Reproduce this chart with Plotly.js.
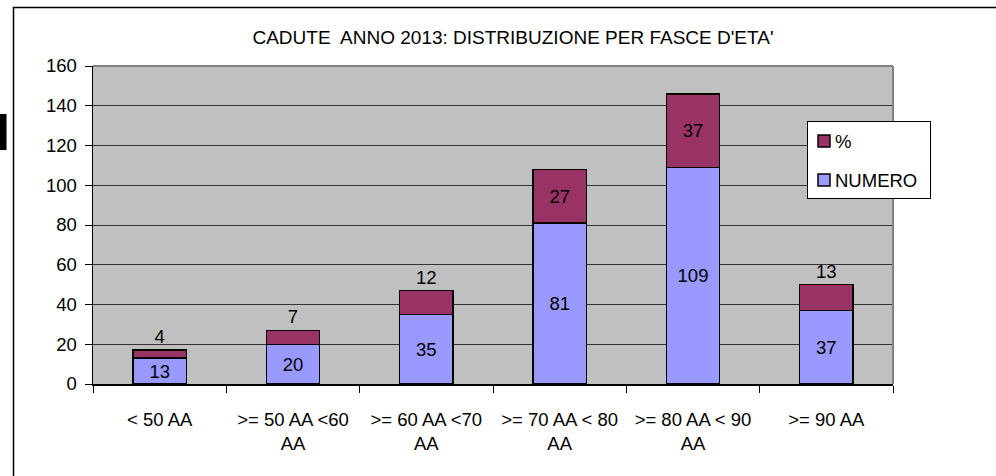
<!DOCTYPE html>
<html>
<head>
<meta charset="utf-8">
<script src="https://cdn.plot.ly/plotly-3.0.1.min.js"></script>
<style>
html,body{margin:0;padding:0;background:#fff;}
#chart{width:996px;height:476px;}
</style>
</head>
<body>
<div id="chart"></div>
<script>
const categories = ["< 50 AA", ">= 50 AA <60<br>AA", ">= 60 AA <70<br>AA", ">= 70 AA < 80<br>AA", ">= 80 AA < 90<br>AA", ">= 90 AA"];
const numero = [13, 20, 35, 81, 109, 37];
const percent = [4, 7, 12, 27, 37, 13];
const percentLabelPos = ["outside", "outside", "outside", "inside", "inside", "outside"];
const yTicks = [0, 20, 40, 60, 80, 100, 120, 140, 160];

const FONT = "Liberation Sans, Arial, sans-serif";
const FS = 18.5;

const traces = [
  {
    type: "bar", name: "NUMERO", x: categories, y: numero,
    text: numero.map(String), textposition: "inside", insidetextanchor: "middle",
    textangle: 0, constraintext: "none", cliponaxis: false,
    textfont: {family: FONT, size: FS, color: "#000"},
    insidetextfont: {family: FONT, size: FS, color: "#000"},
    marker: {color: "#9999FF", line: {color: "#000", width: 1.5}},
    width: 0.4, legendrank: 2, hoverinfo: "skip"
  },
  {
    type: "bar", name: "%", x: categories, y: percent,
    text: percent.map(String), textposition: percentLabelPos, insidetextanchor: "middle",
    textangle: 0, constraintext: "none", cliponaxis: false,
    textfont: {family: FONT, size: FS, color: "#000"},
    insidetextfont: {family: FONT, size: FS, color: "#000"},
    outsidetextfont: {family: FONT, size: FS, color: "#000"},
    marker: {color: "#993366", line: {color: "#000", width: 1.5}},
    width: 0.4, legendrank: 1, hoverinfo: "skip"
  }
];

const L = 93, R = 893, T = 66, B = 384, W = 996, H = 476;
const px = v => (v - L) / (R - L);
const py = v => (B - v) / (B - T);

const layout = {
  width: W, height: H,
  margin: {l: L, r: W - R, t: T, b: H - B, pad: 0},
  paper_bgcolor: "#fff",
  plot_bgcolor: "#C0C0C0",
  barmode: "stack",
  showlegend: true,
  font: {family: FONT, size: FS, color: "#000"},
  title: {
    text: "CADUTE\u00A0 ANNO 2013: DISTRIBUZIONE PER FASCE D'ETA'",
    font: {family: FONT, size: 19, color: "#000"},
    x: px(513), xref: "paper", xanchor: "center",
    y: 1 - 37 / H, yref: "container", yanchor: "middle"
  },
  xaxis: {
    type: "category",
    tickson: "boundaries",
    ticks: "outside", ticklen: 7, tickcolor: "#000", tickwidth: 1,
    showline: true, linecolor: "#000", linewidth: 1.5,
    showgrid: false, zeroline: false,
    tickfont: {family: FONT, size: FS, color: "#000"},
    ticklabelstandoff: 18,
    fixedrange: true
  },
  yaxis: {
    range: [0, 160],
    tickvals: yTicks, ticktext: yTicks.map(String),
    ticks: "outside", ticklen: 7, tickcolor: "#000", tickwidth: 1,
    showline: true, linecolor: "#000", linewidth: 1.5,
    showgrid: true, gridcolor: "#333", gridwidth: 1,
    zeroline: false,
    tickfont: {family: FONT, size: FS, color: "#000"},
    ticklabelstandoff: 4,
    fixedrange: true
  },
  legend: {
    x: px(807), y: py(121), xanchor: "left", yanchor: "top",
    xref: "paper", yref: "paper",
    bgcolor: "#fff", bordercolor: "#000", borderwidth: 1,
    traceorder: "normal", tracegroupgap: 0,
    font: {family: FONT, size: FS, color: "#000"},
    itemwidth: 30
  },
  shapes: [
    {type: "line", xref: "paper", yref: "paper", x0: 0, x1: 1, y0: 1, y1: 1,
     line: {color: "#808080", width: 2}},
    {type: "line", xref: "paper", yref: "paper", x0: 1, x1: 1, y0: 0, y1: 1,
     line: {color: "#808080", width: 2}},
    {type: "rect", xref: "paper", yref: "paper", x0: px(13.5), x1: px(1010), y0: py(490), y1: py(7.5),
     line: {color: "#000", width: 1.5}, fillcolor: "rgba(0,0,0,0)", layer: "above"},
    {type: "rect", xref: "paper", yref: "paper", x0: px(-2), x1: px(6.5), y0: py(150), y1: py(114),
     line: {width: 0}, fillcolor: "#000", layer: "above"}
  ]
};

Plotly.newPlot("chart", traces, layout, {displayModeBar: false, staticPlot: true}).then(function (gd) {
  // spread the legend items apart and tighten symbol/text like the reference
  const items = gd.querySelectorAll(".legend .traces");
  const bg = gd.querySelector(".legend .bg");
  if (items.length === 2 && bg) {
    items[0].setAttribute("transform", "translate(0,20)");
    items[1].setAttribute("transform", "translate(0,59)");
    bg.setAttribute("height", 77);
    bg.setAttribute("width", 123);
    items.forEach(function (it) {
      const t = it.querySelector(".legendtext");
      if (t) {
        const x0 = parseFloat(t.getAttribute("x")) || 40;
        t.setAttribute("x", x0 - 12);
        t.querySelectorAll("tspan").forEach(function (s) {
          if (s.getAttribute("x") !== null) s.setAttribute("x", x0 - 12);
        });
      }
      const p = it.querySelector(".legendpoints");
      if (p) p.setAttribute("transform", "translate(-3,0)");
    });
  }
});
</script>
</body>
</html>
